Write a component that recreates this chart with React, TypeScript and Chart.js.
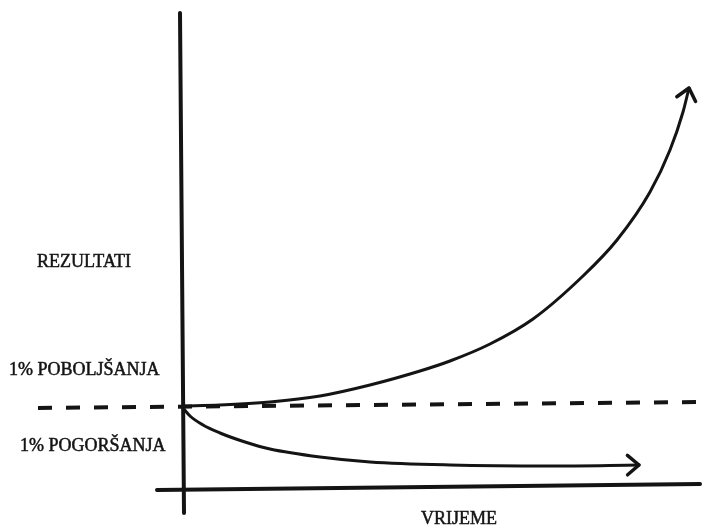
import React, { useEffect, useRef } from "react";
import { Chart, registerables } from "chart.js";

Chart.register(...registerables);

// Time (x) and result (y) values; 0 on y = starting level
const improveTime = [0, 0.74, 1.74, 2.74, 3.74, 4.74, 5.34, 6.14, 7.0, 8.0, 8.68, 9.34, 9.74, 10.0, 10.12];
const improveValue = [0, 0.1, 0.4, 1.0, 2.1, 3.5, 4.5, 6.2, 8.7, 13.0, 16.6, 21.4, 25.6, 29.4, 31.8];

const declineTime = [0, 0.14, 0.4, 0.74, 1.24, 1.74, 2.74, 3.74, 5.34, 7.34, 9.12];
const declineValue = [-0.2, -1.0, -1.9, -2.7, -3.6, -4.3, -5.1, -5.6, -5.9, -6.0, -5.9];

const baselineTime = [-2.9, 10.4];
const baselineValue = [-0.2, 0.4];

const xAxisTime = [-0.52, 10.34];
const xAxisValue = [-8.4, -7.8];

const yAxisTime = [-0.06, 0.02];
const yAxisValue = [39.3, -10.7];

const labelRezultati = "REZULTATI";
const labelBetter = "1% POBOLJŠANJA";
const labelWorse = "1% POGORŠANJA";
const labelTime = "VRIJEME";

const zip = (xs: number[], ys: number[]) => xs.map((x, i) => ({ x, y: ys[i] }));

const INK = "#141414";
const FONT = '18px "Liberation Serif", "Times New Roman", serif';

const arrowPlugin = {
  id: "arrows",
  afterDatasetsDraw(chart: any) {
    const ctx = chart.ctx;
    chart.data.datasets.forEach((ds: any, i: number) => {
      if (!ds.arrow) return;
      const meta = chart.getDatasetMeta(i);
      const pts = meta.data;
      const n = pts.length;
      const a = pts[n - 2];
      const b = pts[n - 1];
      const ang = Math.atan2(b.y - a.y, b.x - a.x);
      const len = 15;
      const spread = 0.7;
      ctx.save();
      ctx.strokeStyle = INK;
      ctx.lineWidth = 3.5;
      ctx.lineCap = "round";
      ctx.lineJoin = "round";
      ctx.beginPath();
      ctx.moveTo(b.x - len * Math.cos(ang - spread), b.y - len * Math.sin(ang - spread));
      ctx.lineTo(b.x, b.y);
      ctx.lineTo(b.x - len * Math.cos(ang + spread), b.y - len * Math.sin(ang + spread));
      ctx.stroke();
      ctx.restore();
    });
  },
};

const textPlugin = {
  id: "texts",
  afterDraw(chart: any) {
    const ctx = chart.ctx;
    ctx.save();
    ctx.fillStyle = INK;
    ctx.strokeStyle = INK;
    ctx.lineWidth = 0.5;
    ctx.font = FONT;
    ctx.textBaseline = "middle";
    ctx.textAlign = "left";
    const put = (t: string, x: number, y: number) => {
      ctx.fillText(t, x, y);
      ctx.strokeText(t, x, y);
    };
    put(labelRezultati, 37, 262);
    put(labelBetter, 9, 370);
    put(labelWorse, 20, 446);
    ctx.textAlign = "center";
    put(labelTime, 459, 519);
    ctx.restore();
  },
};

export default function App() {
  const ref = useRef<HTMLCanvasElement | null>(null);

  useEffect(() => {
    if (!ref.current) return;
    const line = (data: any[], extra: any = {}) => ({
      data,
      borderColor: INK,
      borderWidth: 3,
      pointRadius: 0,
      showLine: true,
      fill: false,
      tension: 0,
      borderCapStyle: "round",
      ...extra,
    });
    const chart = new Chart(ref.current, {
      type: "scatter",
      data: {
        datasets: [
          line(zip(yAxisTime, yAxisValue), { borderWidth: 4 }),
          line(zip(xAxisTime, xAxisValue), { borderWidth: 4 }),
          line(zip(baselineTime, baselineValue), {
            borderWidth: 4,
            borderDash: [14, 14],
            borderCapStyle: "butt",
          }),
          line(zip(improveTime, improveValue), { cubicInterpolationMode: "monotone", arrow: true }),
          line(zip(declineTime, declineValue), { cubicInterpolationMode: "monotone", arrow: true }),
        ] as any,
      },
      options: {
        animation: false,
        responsive: false,
        maintainAspectRatio: false,
        layout: { padding: 0 },
        plugins: {
          legend: { display: false },
          tooltip: { enabled: false },
        },
        scales: {
          x: { type: "linear", display: false, min: -3.66, max: 10.4 },
          y: { type: "linear", display: false, min: -12, max: 40.6 },
        },
      },
      plugins: [arrowPlugin, textPlugin],
    });
    return () => chart.destroy();
  }, []);

  return (
    <div style={{ position: "fixed", left: 0, top: 0, width: 703, height: 526, background: "#fff" }}>
      <canvas ref={ref} width={703} height={526} style={{ display: "block" }} />
    </div>
  );
}
